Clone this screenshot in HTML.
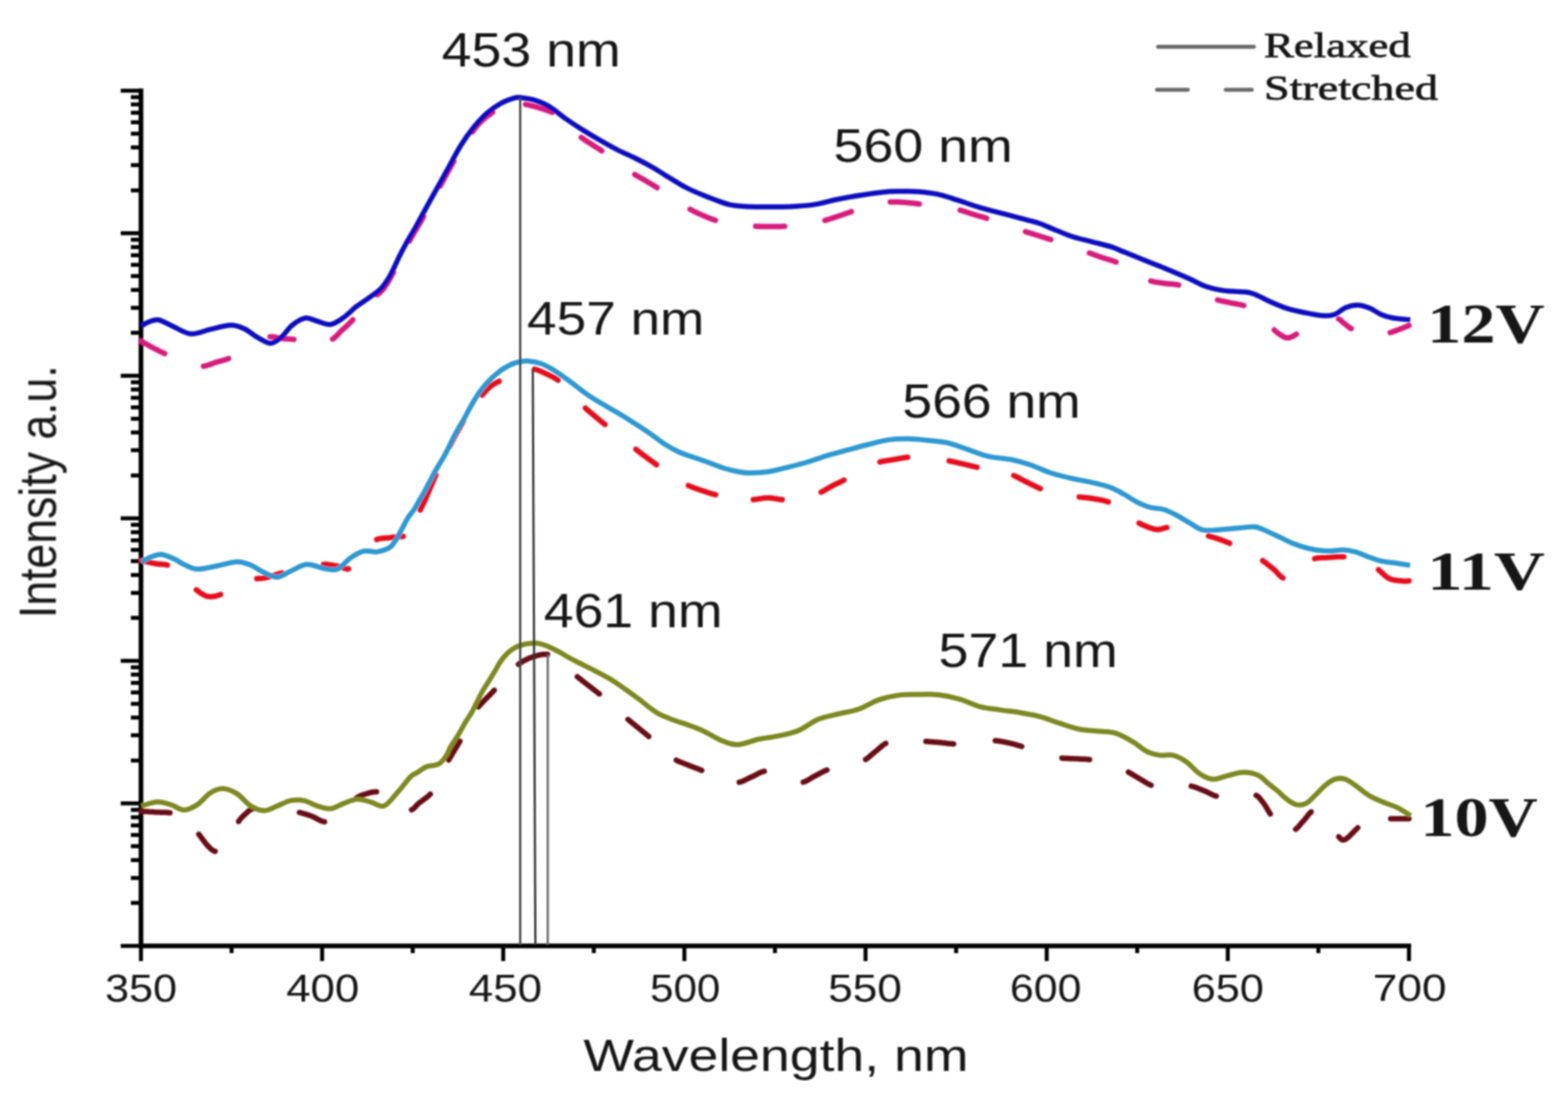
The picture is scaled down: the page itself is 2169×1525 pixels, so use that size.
<!DOCTYPE html>
<html><head><meta charset="utf-8"><style>
html,body{margin:0;padding:0;background:#fff;}
svg{display:block;}
.wrap{width:2169px;height:1525px;}
</style></head><body><div class="wrap">
<svg width="2169" height="1525" viewBox="0 0 2169 1525">
<defs><filter id="soft" x="0" y="0" width="2169" height="1525" filterUnits="userSpaceOnUse"><feGaussianBlur stdDeviation="1.0"/></filter></defs>
<rect width="2169" height="1525" fill="#fff"/>
<g filter="url(#soft)">
<path d="M167,125.5 H195 M181,263.4 H195 M181,228.6 H195 M181,204 H195 M181,184.9 H195 M181,169.3 H195 M181,156.1 H195 M181,144.6 H195 M181,134.5 H195 M167,322.8 H195 M181,460.6 H195 M181,425.9 H195 M181,401.2 H195 M181,382.1 H195 M181,366.5 H195 M181,353.3 H195 M181,341.9 H195 M181,331.8 H195 M167,520 H195 M181,657.9 H195 M181,623.1 H195 M181,598.5 H195 M181,579.4 H195 M181,563.8 H195 M181,550.6 H195 M181,539.1 H195 M181,529 H195 M167,717.2 H195 M181,855.1 H195 M181,820.4 H195 M181,795.7 H195 M181,776.6 H195 M181,761 H195 M181,747.8 H195 M181,736.4 H195 M181,726.3 H195 M167,914.5 H195 M181,1052.4 H195 M181,1017.6 H195 M181,993 H195 M181,973.9 H195 M181,958.3 H195 M181,945.1 H195 M181,933.6 H195 M181,923.5 H195 M167,1111.8 H195 M181,1249.6 H195 M181,1214.9 H195 M181,1190.2 H195 M181,1171.1 H195 M181,1155.5 H195 M181,1142.3 H195 M181,1130.9 H195 M181,1120.8 H195 M167,1309 H195 M195,1309 V1330 M320.3,1309 V1319 M445.6,1309 V1330 M570.9,1309 V1319 M696.1,1309 V1330 M821.4,1309 V1319 M946.7,1309 V1330 M1072,1309 V1319 M1197.3,1309 V1330 M1322.6,1309 V1319 M1447.9,1309 V1330 M1573.1,1309 V1319 M1698.4,1309 V1330 M1823.7,1309 V1319 M1949,1309 V1330 " stroke="#000" stroke-width="5.5" fill="none"/>
<path d="M195,122.5 V1312 M192,1309 H1952" stroke="#000" stroke-width="6.5" fill="none"/>
<path d="M195,472 195.4,472.2 195.8,472.5 196.3,472.7 196.8,473 197.4,473.4 198,473.7 198.7,474.1 199.3,474.5 200.1,474.9 200.8,475.3 201.6,475.7 202.3,476.2 203.1,476.6 203.9,477.1 204.8,477.5 205.6,478 206.4,478.5 207.2,478.9 208.1,479.4 208.9,479.8 209.7,480.3 210.5,480.7 211.2,481.1 212,481.5 212.7,481.9 213.5,482.3 214.2,482.6 214.9,483 215.7,483.4 216.4,483.7 217.1,484.1 217.9,484.5 218.6,484.8 219.3,485.2 220.1,485.6 220.8,485.9 221.6,486.3 222.4,486.7 223.1,487 223.9,487.4 224.7,487.8 225.5,488.2 226.3,488.6 227.1,489 227.9,489.3M281.5,506.7 282.2,506.6 283.2,506.5 284.1,506.3 285,506.1 285.9,505.8 286.8,505.6 287.7,505.3 288.6,505 289.5,504.7 290.4,504.4 291.3,504.1 292.2,503.7 293.1,503.4 294,503.1 294.8,502.8 295.7,502.4 296.6,502.1 297.4,501.8 298.3,501.5 299.2,501.3 300,501 300.8,500.8 301.6,500.5 302.4,500.3 303.2,500.1 304,499.9 304.8,499.7 305.5,499.5 306.3,499.3 307,499.1 307.7,498.9 308.5,498.7 309.2,498.5 310,498.3 310.7,498.1 311.5,497.8 312.2,497.6 313,497.3 313.8,497.1 314.6,496.8 315.5,496.5 316.2,496.2M373.6,466.1 374.3,466.1 375.1,466 376,466 376.8,466.1 377.6,466.1 378.4,466.2 379.2,466.3 380,466.5 380.7,466.6 381.5,466.8 382.3,467 383,467.1 383.8,467.3 384.5,467.5 385.3,467.7 386.1,467.9 386.8,468 387.6,468.2 388.4,468.3 389.2,468.4 390,468.5 390.8,468.6 391.6,468.6 392.4,468.7 393.2,468.8 394,468.8 394.8,468.9 395.6,468.9 396.3,469 397.1,469 397.9,469.1 398.7,469.1 399.5,469.2 400.3,469.2 401.1,469.3 401.9,469.3 402.7,469.4 403.5,469.5 404.3,469.5 405.2,469.6 406,469.7 406.5,469.7M460.1,469.1 460.4,468.9 461.1,468.5 461.7,468 462.4,467.6 463,467.1 463.6,466.6 464.2,466 464.7,465.5 465.3,464.9 465.8,464.4 466.4,463.8 466.9,463.2 467.5,462.6 468,462.1 468.6,461.5 469.1,460.9 469.7,460.3 470.2,459.7 470.8,459.1 471.4,458.6 472,458 472.6,457.4 473.2,456.9 473.8,456.3 474.5,455.8 475.1,455.2 475.7,454.7 476.3,454.1 476.9,453.5 477.6,453 478.2,452.4 478.8,451.8 479.4,451.2 480,450.6 480.7,450 481.3,449.4 481.9,448.8 482.5,448.2 483.2,447.6 483.8,446.9 484.4,446.3 485.1,445.6 485.7,445 486.4,444.3 487,443.6 487.7,442.9 488,442.5M521.7,407.9 521.7,407.9 522.2,407.5 522.7,407.2 523.2,406.8 523.7,406.4 524.2,406 524.7,405.6 525.2,405.2 525.6,404.8 526.1,404.4 526.6,403.9 527,403.5 527.4,403 527.9,402.6 528.3,402.1 528.7,401.7 529.1,401.2 529.5,400.7 529.9,400.3 530.3,399.8 530.6,399.3 531,398.8 531.4,398.3 531.8,397.8 532.1,397.3 532.5,396.8 532.8,396.3 533.2,395.8 533.5,395.3 533.9,394.7 534.2,394.2 534.6,393.7 534.9,393.1 535.3,392.6 535.6,392 536,391.5 536.4,390.9 536.7,390.4 537.1,389.8 537.4,389.2 537.8,388.6 538.1,387.9 538.5,387.3 538.9,386.7 539.2,386 539.6,385.4 539.9,384.8 540.2,384.1 540.6,383.5 540.9,382.8 541.3,382.2 541.6,381.6 541.9,381 542.2,380.4 542.5,379.8 542.9,379.2 543.2,378.6 543.4,378.1 543.7,377.5 544,377 544.2,376.6M566.3,333.5 566.4,333.3 566.7,332.8 567,332.3 567.3,331.7 567.6,331.2 567.9,330.7 568.2,330.2 568.5,329.7 568.8,329.1 569.1,328.6 569.4,328.1 569.7,327.5 570,327 570.3,326.5 570.6,325.9 571,325.4 571.3,324.8 571.6,324.3 571.9,323.7 572.3,323.2 572.6,322.6 572.9,322 573.3,321.5 573.6,320.9 573.9,320.3 574.3,319.8 574.6,319.2 575,318.6 575.3,318.1 575.6,317.5 576,316.9 576.3,316.4 576.7,315.8 577,315.2 577.3,314.6 577.7,314.1 578,313.5 578.3,312.9 578.6,312.4 578.9,311.9 579.2,311.4 579.5,310.9 579.8,310.5 580,310 580.3,309.6 580.6,309.1 580.8,308.7 581.1,308.2 581.4,307.7 581.7,307.2 582,306.7 582.3,306.2 582.6,305.6 582.9,305 583.3,304.3 583.7,303.7 584.1,302.9 584.5,302.2 585,301.3 585.5,300.4 585.8,299.8M609,257.3 609.2,256.9 610,255.5 610.7,254.1 611.4,252.7 612.2,251.4 612.9,250 613.7,248.6 614.4,247.2 615.2,245.9 615.9,244.5 616.7,243.1 617.4,241.8 618.2,240.4 618.9,239 619.7,237.6 620.5,236.2 621.2,234.9 622,233.5 622.8,232.1 623.6,230.7 624.3,229.3 625.1,227.9 625.9,226.5 626.7,225 627.5,223.6 627.8,223.1M653.6,182.2 654.1,181.5 654.8,180.6 655.5,179.7 656.1,178.9 656.8,178.1 657.4,177.3 658,176.5 658.6,175.8 659.2,175 659.8,174.3 660.3,173.7 660.9,173 661.4,172.4 662,171.8 662.5,171.2 663,170.7 663.6,170.1 664.1,169.6 664.6,169.1 665.1,168.6 665.5,168.2 666,167.7 666.5,167.3 666.9,166.8 667.4,166.4 667.8,166 668.3,165.6 668.7,165.2 669.2,164.8 669.6,164.4 670,164 670.4,163.6 670.8,163.3 671.1,163 671.5,162.7 671.8,162.4 672.1,162.1 672.4,161.9 672.7,161.7 673,161.4 673.3,161.2 673.5,161 673.8,160.8 674.1,160.6 674.4,160.5 674.7,160.3 675,160.1 675.3,159.8 675.6,159.6 675.9,159.4 676.3,159.2 676.7,158.9 677.1,158.6 677.5,158.3 678,158 678.5,157.7 679,157.3 679.5,156.9 680.1,156.5 680.7,156.1 681.3,155.7 681.6,155.4M727,144.5 727.2,144.5 728,144.7 728.9,144.9 729.7,145 730.6,145.2 731.5,145.4 732.4,145.6 733.3,145.8 734.1,146 735.1,146.3 736,146.5 736.9,146.7 737.8,146.9 738.7,147.2 739.6,147.4 740.5,147.7 741.4,147.9 742.3,148.2 743.2,148.5 744.1,148.7 745,149 745.9,149.3 746.8,149.5 747.7,149.8 748.6,150.1 749.5,150.4 750.4,150.6 751.4,150.9 752.3,151.2 753.2,151.5 754.1,151.8 755,152.1 756,152.4 756.9,152.8 757.8,153.1 758.7,153.4 759.6,153.8 760.5,154.1 761.4,154.5 762.3,154.9 763.2,155.3 763.9,155.6M804,190.1 804.4,190.4 805.1,190.9 805.8,191.4 806.5,191.9 807.1,192.4 807.8,192.9 808.5,193.3 809.2,193.8 809.8,194.2 810.5,194.7 811.2,195.1 811.9,195.6 812.5,196 813.2,196.4 813.9,196.8 814.6,197.3 815.3,197.7 815.9,198.1 816.6,198.6 817.3,199 818,199.5 818.7,200 819.4,200.4 820.1,200.8 820.7,201.3 821.4,201.7 822.1,202.1 822.8,202.6 823.5,203 824.2,203.4 824.8,203.8 825.5,204.3 826.2,204.7 826.9,205.1 827.6,205.5 828.3,206 829,206.4 829.7,206.9 830.4,207.4 831.2,207.8 831.9,208.3 832.4,208.7M878,241.5 878.5,241.8 879.2,242.2 880,242.7 880.7,243.1 881.4,243.5 882.2,243.9 882.9,244.3 883.6,244.7 884.3,245.1 885,245.5 885.8,245.9 886.5,246.3 887.2,246.7 887.9,247.1 888.6,247.5 889.3,247.9 890.1,248.3 890.8,248.7 891.5,249.1 892.3,249.6 893,250 893.7,250.4 894.5,250.9 895.2,251.3 896,251.8 896.7,252.2 897.5,252.7 898.2,253.1 899,253.6 899.7,254 900.5,254.5 901.3,255 902,255.4 902.8,255.9 903.5,256.4 904.3,256.8 905.1,257.3 905.8,257.8 906.6,258.3 907.4,258.8 908.2,259.3 908.9,259.8M954.5,289.6 955.2,290 956.1,290.4 956.9,290.9 957.7,291.3 958.6,291.7 959.4,292.1 960.2,292.6 961.1,293 961.9,293.4 962.7,293.8 963.6,294.2 964.4,294.6 965.3,295 966.1,295.4 966.9,295.8 967.8,296.1 968.6,296.5 969.5,296.9 970.3,297.3 971.2,297.6 972,298 972.8,298.4 973.7,298.7 974.5,299.1 975.3,299.4 976.2,299.8 977,300.1 977.8,300.5 978.7,300.8 979.5,301.1 980.3,301.5 981.1,301.8 982,302.1 982.8,302.5 983.7,302.8 984.5,303.1 985.4,303.4 986.2,303.7 987.1,304 988,304.3 988.8,304.6 989.6,304.8M1045.3,313.1 1046.2,313.2 1047.2,313.2 1048.1,313.3 1049.1,313.3 1050,313.3 1051,313.3 1051.9,313.4 1052.8,313.4 1053.8,313.4 1054.7,313.4 1055.6,313.4 1056.6,313.5 1057.5,313.5 1058.4,313.5 1059.3,313.5 1060.3,313.5 1061.2,313.5 1062.1,313.5 1063.1,313.5 1064,313.5 1065,313.5 1066,313.5 1066.9,313.5 1067.9,313.5 1068.8,313.5 1069.8,313.5 1070.8,313.5 1071.7,313.5 1072.7,313.5 1073.7,313.5 1074.6,313.5 1075.6,313.5 1076.6,313.5 1077.6,313.5 1078.5,313.4 1079.5,313.4 1080.5,313.4 1081.5,313.4 1082.4,313.3 1083.4,313.3 1084.4,313.2 1085.4,313.2M1141.1,305 1142,304.7 1143,304.5 1143.9,304.2 1144.8,303.9 1145.8,303.7 1146.7,303.4 1147.6,303.1 1148.5,302.8 1149.4,302.5 1150.3,302.2 1151.2,301.9 1152.1,301.6 1152.9,301.4 1153.8,301.1 1154.7,300.8 1155.6,300.5 1156.5,300.2 1157.4,299.9 1158.2,299.6 1159.1,299.3 1160,299 1160.9,298.7 1161.7,298.4 1162.6,298.1 1163.5,297.8 1164.3,297.5 1165.2,297.2 1166,297 1166.9,296.7 1167.7,296.4 1168.5,296.1 1169.4,295.8 1170.2,295.5 1171,295.2 1171.9,294.9 1172.7,294.6 1173.6,294.3 1174.4,294 1175.3,293.7 1176.1,293.4 1177,293.1 1177.7,292.8M1231.5,279.6 1232.2,279.6 1233.1,279.5 1234,279.5 1234.9,279.5 1235.8,279.5 1236.6,279.4 1237.5,279.4 1238.4,279.5 1239.2,279.5 1240.1,279.5 1241,279.5 1241.8,279.6 1242.7,279.6 1243.6,279.6 1244.5,279.7 1245.4,279.7 1246.3,279.8 1247.2,279.8 1248.1,279.9 1249,279.9 1250,280 1251,280.1 1251.9,280.1 1252.9,280.2 1253.9,280.3 1254.9,280.4 1255.9,280.5 1256.9,280.6 1257.9,280.7 1259,280.8 1260,280.9 1261,281 1262.1,281.1 1263.1,281.2 1264.1,281.3 1265.2,281.5 1266.2,281.6 1267.3,281.7 1268.3,281.8 1269.4,282 1270.4,282.1 1271.5,282.2 1271.6,282.2M1328.2,290.8 1329,291 1329.9,291.3 1330.8,291.5 1331.6,291.8 1332.5,292.1 1333.4,292.3 1334.2,292.6 1335,292.9 1335.9,293.2 1336.7,293.4 1337.5,293.7 1338.4,294 1339.2,294.3 1340,294.6 1340.9,294.8 1341.7,295.1 1342.5,295.4 1343.4,295.7 1344.3,296 1345.1,296.2 1346,296.5 1346.9,296.8 1347.8,297 1348.7,297.3 1349.5,297.6 1350.4,297.8 1351.3,298.1 1352.2,298.3 1353.1,298.6 1354,298.9 1354.9,299.1 1355.8,299.4 1356.7,299.6 1357.6,299.9 1358.5,300.2 1359.4,300.4 1360.3,300.7 1361.2,301 1362.1,301.3 1363.1,301.5 1364,301.8 1364.8,302.1M1418.5,320.5 1419.3,320.8 1420.2,321.1 1421.1,321.4 1421.9,321.6 1422.8,321.9 1423.6,322.2 1424.5,322.4 1425.3,322.7 1426.1,322.9 1426.9,323.2 1427.8,323.4 1428.6,323.7 1429.4,323.9 1430.2,324.2 1431,324.4 1431.8,324.7 1432.7,325 1433.5,325.2 1434.3,325.5 1435.2,325.7 1436,326 1436.8,326.3 1437.7,326.5 1438.5,326.8 1439.3,327.1 1440.2,327.3 1441,327.6 1441.8,327.8 1442.6,328.1 1443.5,328.3 1444.3,328.6 1445.1,328.9 1445.9,329.1 1446.8,329.4 1447.6,329.6 1448.4,329.9 1449.3,330.2 1450.1,330.5 1451,330.7 1451.8,331 1452.7,331.3 1453.5,331.5M1507,350.1 1507.9,350.4 1508.7,350.7 1509.6,351 1510.5,351.3 1511.4,351.6 1512.2,351.9 1513.1,352.2 1513.9,352.5 1514.8,352.9 1515.6,353.2 1516.4,353.5 1517.3,353.8 1518.1,354.1 1519,354.4 1519.8,354.7 1520.7,355 1521.5,355.3 1522.4,355.6 1523.2,355.9 1524.1,356.2 1525,356.5 1525.9,356.8 1526.8,357.1 1527.7,357.4 1528.6,357.7 1529.5,357.9 1530.3,358.2 1531.2,358.5 1532.1,358.8 1533.1,359 1534,359.3 1534.9,359.6 1535.8,359.9 1536.7,360.1 1537.6,360.4 1538.5,360.7 1539.4,361 1540.3,361.3 1541.2,361.6 1542.1,362 1543,362.3 1543.8,362.6M1591.8,388.8 1592.5,389 1593.3,389.2 1594.2,389.4 1595.1,389.6 1595.9,389.8 1596.8,390 1597.6,390.1 1598.5,390.3 1599.4,390.5 1600.2,390.6 1601.1,390.7 1602,390.8 1602.9,391 1603.7,391.1 1604.6,391.2 1605.5,391.3 1606.4,391.5 1607.3,391.6 1608.2,391.7 1609.1,391.9 1610,392 1610.9,392.1 1611.8,392.3 1612.8,392.4 1613.7,392.5 1614.6,392.6 1615.6,392.7 1616.5,392.8 1617.5,392.8 1618.4,392.9 1619.4,393 1620.4,393.1 1621.3,393.1 1622.3,393.2 1623.2,393.3 1624.2,393.4 1625.2,393.5 1626.2,393.6 1627.1,393.8 1628.1,393.9 1629.1,394.1 1630.1,394.3 1630.4,394.4M1684.2,415 1685,415.3 1685.8,415.5 1686.7,415.7 1687.6,415.9 1688.4,416.1 1689.3,416.3 1690.1,416.5 1691,416.7 1691.8,416.9 1692.7,417 1693.5,417.2 1694.4,417.4 1695.2,417.6 1696,417.7 1696.9,417.9 1697.7,418.1 1698.6,418.2 1699.4,418.4 1700.3,418.6 1701.1,418.8 1702,419 1702.9,419.2 1703.8,419.4 1704.7,419.6 1705.5,419.7 1706.4,419.9 1707.3,420 1708.2,420.2 1709.2,420.3 1710.1,420.5 1711,420.6 1711.9,420.8 1712.8,420.9 1713.7,421.1 1714.6,421.3 1715.5,421.5 1716.4,421.7 1717.3,421.9 1718.1,422.1 1719,422.3 1719.9,422.6 1720.5,422.8M1762.6,456.6 1762.9,456.9 1763.4,457.3 1763.8,457.7 1764.2,458.1 1764.6,458.4 1764.9,458.7 1765.3,459 1765.6,459.3 1766,459.6 1766.3,459.9 1766.7,460.2 1767,460.4 1767.3,460.7 1767.7,461 1768,461.2 1768.4,461.5 1768.8,461.7 1769.2,462 1769.6,462.2 1770,462.5 1770.4,462.8 1770.9,463.1 1771.3,463.3 1771.8,463.6 1772.2,463.9 1772.7,464.2 1773.1,464.5 1773.6,464.8 1774,465.1 1774.5,465.4 1774.9,465.6 1775.4,465.9 1775.9,466.1 1776.3,466.4 1776.8,466.6 1777.3,466.8 1777.8,467 1778.3,467.1 1778.8,467.3 1779.3,467.4 1779.8,467.4 1780.3,467.5 1780.9,467.5 1781.4,467.5 1781.9,467.5 1782.5,467.4 1783,467.3 1783.6,467.2 1784.1,467 1784.7,466.8 1785.3,466.6 1785.8,466.4 1786.4,466.2 1787,465.9 1787.6,465.7 1788.2,465.4 1788.8,465.1 1789.4,464.8 1790,464.4 1790.6,464.1 1791.2,463.7 1791.9,463.4 1792.5,463 1793.2,462.6 1793.3,462.5M1851.8,441.3 1852.2,441.5 1852.6,441.8 1853.1,442.1 1853.5,442.5 1854,442.8 1854.4,443.2 1854.8,443.6 1855.2,443.9 1855.7,444.3 1856.1,444.7 1856.5,445.1 1856.9,445.4 1857.3,445.8 1857.8,446.2 1858.2,446.6 1858.6,446.9 1859.1,447.3 1859.5,447.7 1860,448 1860.5,448.3 1860.9,448.7 1861.3,449 1861.8,449.3 1862.2,449.7 1862.6,450 1863,450.3 1863.4,450.7 1863.8,451 1864.2,451.3 1864.6,451.7 1865.1,452 1865.5,452.3 1866,452.7 1866.4,453 1866.9,453.3 1867.4,453.7 1867.9,454 1868.5,454.4 1869.1,454.7 1869.1,454.7M1923,460.2 1923.2,460.2 1923.9,460 1924.5,459.8 1925.2,459.6 1925.8,459.4 1926.4,459.2 1927,459 1927.6,458.8 1928.1,458.6 1928.7,458.4 1929.2,458.2 1929.8,458 1930.3,457.8 1930.9,457.6 1931.5,457.3 1932,457.1 1932.6,456.9 1933.2,456.7 1933.8,456.5 1934.4,456.2 1935,456 1935.7,455.8 1936.3,455.5 1937,455.2 1937.8,455 1938.5,454.7 1939.3,454.4 1940,454.1 1940.8,453.8 1941.6,453.5 1942.3,453.1 1943.1,452.8 1943.8,452.5 1944.6,452.2 1945.3,451.9 1946,451.7 1946.7,451.4 1947.3,451.1 1947.9,450.9 1948.5,450.6 1949.1,450.4 1949.1,450.4" stroke="#d81c7c" stroke-width="7.5" fill="none" stroke-linecap="round" stroke-linejoin="round"/>
<path d="M195.5,775.6 195.9,775.7 196.4,775.8 197,775.9 197.6,776.1 198.3,776.3 199,776.4 199.8,776.6 200.6,776.8 201.4,777 202.3,777.2 203.1,777.4 204,777.6 205,777.8 205.9,778 206.8,778.3 207.8,778.5 208.7,778.7 209.7,778.9 210.6,779.1 211.5,779.3 212.4,779.5 213.3,779.7 214.2,779.8 215,780 215.8,780.1 216.6,780.3 217.4,780.4 218.2,780.5 219.1,780.5 219.9,780.6 220.7,780.6 221.5,780.7 222.3,780.7 223.1,780.8 224,780.8 224.8,780.9 225.6,781 226.4,781 227.2,781.1 228,781.2 228.8,781.4 229.6,781.5 230.4,781.7 231.2,781.9 231.5,782M271.6,816.2 272.3,816.7 273,817.3 273.8,817.9 274.5,818.4 275.3,819 276,819.6 276.8,820.1 277.6,820.6 278.3,821.2 279.1,821.7 279.8,822.1 280.6,822.6 281.4,823 282.2,823.4 282.9,823.8 283.7,824.2 284.5,824.5 285.3,824.8 286.1,825 286.9,825.2 287.7,825.4 288.5,825.5 289.3,825.6 290.1,825.7 291,825.7 291.8,825.7 292.6,825.7 293.4,825.6 294.3,825.6 295.1,825.4 295.9,825.3 296.8,825.2 297.6,825 298.5,824.8 299.3,824.6 300.2,824.3 301,824.1 301.9,823.8 302.8,823.5 303.6,823.2 304.5,823 305.2,822.7M355.2,800.7 355.7,800.7 356.2,800.6 356.8,800.5 357.3,800.5 357.9,800.5 358.4,800.5 358.9,800.4 359.4,800.4 359.9,800.4 360.5,800.4 361,800.4 361.6,800.4 362.1,800.3 362.7,800.3 363.3,800.2 364,800.1 364.7,800 365.4,799.9 366.2,799.8 367,799.6 367.9,799.4 368.8,799.2 369.7,798.9 370.7,798.7 371.6,798.4 372.7,798.1 373.7,797.8 374.8,797.4 375.8,797.1 376.9,796.8 378,796.4 379.2,796.1 380.3,795.7 381.5,795.3 382.6,795 383.8,794.6 384.9,794.3 386.1,794 387.2,793.6 388.4,793.3 389.5,793 390,792.9M447.5,780.9 448.2,780.9 449,780.9 449.9,780.9 450.8,781 451.6,781 452.5,781.1 453.3,781.2 454.2,781.3 455,781.4 455.9,781.5 456.7,781.6 457.5,781.8 458.3,781.9 459.2,782 460,782.2 460.8,782.3 461.7,782.5 462.5,782.6 463.3,782.8 464.2,782.9 465,783 465.8,783.1 466.7,783.3 467.6,783.5 468.4,783.8 469.3,784 470.2,784.3 471,784.6 471.9,784.9 472.8,785.2 473.7,785.5 474.5,785.8 475.4,786.1 476.3,786.4 477.1,786.7 478,786.9 478.8,787.1 479.6,787.2 480.4,787.3 481.3,787.4 482.1,787.4 482.2,787.3M521,746.7 521.7,746.4 522.6,746.1 523.5,745.8 524.4,745.6 525.3,745.4 526.2,745.3 527.2,745.1 528.1,745 529,744.9 529.9,744.8 530.9,744.8 531.8,744.7 532.7,744.6 533.6,744.6 534.6,744.5 535.5,744.5 536.4,744.4 537.3,744.3 538.2,744.2 539.1,744.1 540,744 540.9,743.9 541.8,743.8 542.7,743.6 543.7,743.5 544.6,743.4 545.6,743.4 546.5,743.3 547.5,743.2 548.4,743.1 549.4,743.1 550.3,743 551.3,742.9 552.2,742.8 553.1,742.7 554,742.7 554.8,742.6 555.7,742.5 556.5,742.4 557.3,742.3 557.8,742.2M581.3,705.8 581.3,705.7 581.6,705.1 581.9,704.5 582.2,703.9 582.5,703.3 582.8,702.7 583.1,702.1 583.4,701.5 583.7,700.9 584,700.3 584.3,699.7 584.6,699.1 584.9,698.4 585.2,697.8 585.5,697.2 585.8,696.5 586.1,695.9 586.4,695.3 586.7,694.6 587,694 587.3,693.4 587.6,692.7 587.9,692.1 588.2,691.4 588.5,690.8 588.8,690.1 589,689.5 589.3,688.8 589.6,688.1 589.9,687.5 590.2,686.8 590.5,686.1 590.8,685.5 591.1,684.8 591.4,684.1 591.7,683.4 592,682.7 592.2,682.1 592.5,681.4 592.8,680.7 593.1,680 593.4,679.4 593.7,678.7 594,678 594.3,677.3 594.6,676.6 594.9,676 595.2,675.3 595.5,674.6 595.8,673.9 596,673.2 596.3,672.5 596.6,671.8 596.9,671.1 597.2,670.4 597.5,669.8 597.8,669.1 598.1,668.4 598.4,667.7 598.7,667 599,666.3 599.2,665.6 599.5,664.9 599.8,664.2 600.1,663.5 600.4,662.9 600.7,662.2 601,661.5 601.3,660.8 601.6,660.1 601.9,659.5 602.2,658.8 602.5,658.1 602.8,657.4 602.8,657.3M622.4,617.2 622.6,616.9 622.8,616.3 623.1,615.8 623.4,615.2 623.6,614.7 623.9,614.1 624.2,613.6 624.5,613 624.7,612.5 625,612 625.3,611.4 625.5,610.9 625.8,610.3 626.1,609.8 626.3,609.2 626.6,608.7 626.9,608.1 627.2,607.6 627.4,607.1 627.7,606.5 628,606 628.3,605.5 628.6,604.9 628.9,604.4 629.1,603.9 629.4,603.3 629.7,602.8 630,602.3 630.3,601.8 630.6,601.2 630.9,600.7 631.2,600.2 631.5,599.7 631.8,599.1 632.1,598.6 632.4,598.1 632.7,597.6 633,597.1 633.3,596.5 633.6,596 633.9,595.5 634.1,595 634.4,594.5 634.7,594 635,593.5 635.3,593 635.6,592.5 635.8,592 636.1,591.5 636.4,591 636.7,590.5 636.9,590 637.2,589.5 637.5,589 637.7,588.6 638,588.1 638.3,587.6 638.5,587.1 638.8,586.6 639.1,586.2 639.4,585.7 639.6,585.2 639.9,584.7 640.2,584.3 640.4,583.8 640.7,583.4 640.9,582.9M666.8,546.7 667.1,546.3 667.5,545.9 667.8,545.5 668.2,545.1 668.5,544.6 668.9,544.2 669.3,543.8 669.6,543.4 670,543 670.4,542.6 670.8,542.2 671.1,541.8 671.5,541.4 671.9,541 672.3,540.5 672.7,540.1 673.1,539.7 673.5,539.3 673.9,538.9 674.3,538.5 674.7,538.1 675.1,537.7 675.5,537.3 675.9,536.9 676.4,536.5 676.8,536.1 677.2,535.7 677.7,535.3 678.1,535 678.6,534.6 679.1,534.2 679.5,533.9 680,533.5 680.5,533.2 681,532.8 681.4,532.5 681.9,532.2 682.4,531.9 682.9,531.6 683.3,531.4 683.8,531.1 684.3,530.8 684.8,530.6 685.3,530.3 685.8,530 686.3,529.8 686.9,529.5 687.4,529.2 688,528.9 688.5,528.6 689.1,528.3 689.7,528 690.4,527.7 690.5,527.6M739.3,510.9 739.6,511 740.4,511.1 741.1,511.3 741.9,511.5 742.7,511.8 743.5,512 744.2,512.3 745,512.6 745.8,512.9 746.5,513.2 747.3,513.5 748.1,513.8 748.8,514.1 749.6,514.5 750.3,514.8 751.1,515.2 751.9,515.5 752.6,515.9 753.4,516.3 754.2,516.6 755,517 755.8,517.4 756.6,517.7 757.4,518.1 758.2,518.5 759.1,518.9 759.9,519.3 760.7,519.7 761.6,520.1 762.4,520.5 763.2,520.9 764.1,521.3 764.9,521.8 765.7,522.2 766.6,522.7 767.4,523.2 768.2,523.6 769,524.1 769.8,524.6 770.6,525.1 771.4,525.7 772,526.1M809.8,564.7 810.3,565.2 810.9,565.8 811.6,566.3 812.2,566.9 812.9,567.5 813.5,568 814.1,568.6 814.8,569.1 815.4,569.6 816,570.2 816.6,570.7 817.3,571.2 817.9,571.7 818.5,572.3 819.1,572.8 819.8,573.3 820.4,573.8 821.1,574.4 821.7,574.9 822.3,575.4 823,576 823.7,576.6 824.3,577.1 825,577.7 825.6,578.2 826.3,578.7 826.9,579.3 827.6,579.8 828.2,580.4 828.9,580.9 829.6,581.5 830.2,582 830.9,582.6 831.6,583.1 832.2,583.7 832.9,584.2 833.6,584.8 834.3,585.3 834.9,585.9 835.6,586.4 836.3,587 836.9,587.4M879.6,621.7 880.1,622 880.8,622.6 881.4,623.1 882.1,623.6 882.7,624.1 883.4,624.6 884,625.1 884.6,625.6 885.3,626.1 885.9,626.6 886.5,627.1 887.1,627.5 887.8,628 888.4,628.5 889,629 889.7,629.5 890.3,630 891,630.5 891.6,631 892.3,631.5 893,632 893.7,632.5 894.4,633 895.1,633.6 895.8,634.1 896.5,634.6 897.2,635.1 897.9,635.6 898.6,636.2 899.3,636.7 900.1,637.2 900.8,637.8 901.5,638.3 902.2,638.8 903,639.3 903.7,639.9 904.5,640.4 905.2,640.9 905.9,641.5 906.7,642 907.4,642.5 908,643M952.2,671.8 952.8,672.1 953.7,672.5 954.5,672.8 955.3,673.2 956.2,673.5 957,673.9 957.9,674.2 958.7,674.5 959.5,674.9 960.4,675.2 961.3,675.5 962.1,675.8 963,676.1 963.8,676.4 964.7,676.7 965.6,677 966.4,677.3 967.3,677.6 968.2,677.9 969.1,678.2 970,678.5 970.9,678.8 971.8,679.1 972.7,679.4 973.7,679.7 974.6,680 975.5,680.4 976.5,680.7 977.4,681 978.4,681.3 979.3,681.6 980.3,681.9 981.2,682.2 982.2,682.5 983.2,682.7 984.1,683 985.1,683.3 986,683.6 987,683.9 988,684.1 988.9,684.4 989.8,684.6M1042,691.4 1042.9,691.3 1043.9,691.2 1044.8,691.1 1045.8,691 1046.7,690.9 1047.7,690.7 1048.6,690.6 1049.6,690.4 1050.6,690.2 1051.5,690.1 1052.5,689.9 1053.4,689.8 1054.4,689.6 1055.3,689.5 1056.3,689.4 1057.2,689.3 1058.2,689.2 1059.1,689.1 1060.1,689 1061,689 1062,689 1063,689 1063.9,689 1064.9,689.1 1065.8,689.2 1066.8,689.3 1067.7,689.4 1068.7,689.5 1069.6,689.6 1070.6,689.8 1071.5,689.9 1072.5,690.1 1073.4,690.2 1074.4,690.4 1075.3,690.6 1076.3,690.7 1077.3,690.9 1078.2,691 1079.2,691.1 1080.2,691.2 1081.1,691.3 1082.1,691.4M1135.7,681.1 1136.4,680.8 1137.2,680.4 1138.1,680 1138.9,679.5 1139.7,679.1 1140.5,678.6 1141.3,678.2 1142,677.7 1142.8,677.3 1143.6,676.8 1144.4,676.4 1145.1,675.9 1145.9,675.5 1146.7,675 1147.4,674.6 1148.2,674.1 1148.9,673.7 1149.7,673.3 1150.5,672.8 1151.2,672.4 1152,672 1152.8,671.6 1153.5,671.2 1154.3,670.8 1155,670.5 1155.7,670.1 1156.5,669.8 1157.2,669.5 1157.9,669.1 1158.6,668.8 1159.4,668.5 1160.1,668.1 1160.8,667.8 1161.5,667.4 1162.3,667.1 1163,666.8 1163.7,666.4 1164.5,666 1165.2,665.6 1166,665.2 1166.8,664.8 1167.4,664.5M1217.1,639.3 1217.8,639.1 1218.8,638.9 1219.7,638.7 1220.6,638.5 1221.5,638.3 1222.4,638.2 1223.3,638 1224.2,637.9 1225.1,637.7 1226,637.6 1226.9,637.4 1227.8,637.3 1228.7,637.1 1229.6,637 1230.5,636.9 1231.4,636.7 1232.3,636.6 1233.2,636.4 1234.2,636.3 1235.1,636.2 1236,636 1236.9,635.8 1237.8,635.7 1238.8,635.5 1239.7,635.4 1240.6,635.2 1241.5,635 1242.4,634.8 1243.3,634.7 1244.2,634.5 1245.1,634.3 1246,634.2 1247,634 1247.9,633.9 1248.8,633.7 1249.7,633.6 1250.7,633.4 1251.6,633.3 1252.6,633.2 1253.5,633 1254.5,632.9 1255.5,632.8 1255.5,632.8M1313,637.8 1313.9,638 1314.9,638.2 1315.8,638.3 1316.7,638.5 1317.6,638.7 1318.5,638.9 1319.4,639.1 1320.3,639.3 1321.2,639.5 1322.1,639.7 1323,639.9 1323.9,640.1 1324.8,640.3 1325.7,640.5 1326.6,640.8 1327.5,641 1328.4,641.2 1329.3,641.4 1330.2,641.6 1331.1,641.8 1332,642 1332.9,642.2 1333.8,642.4 1334.8,642.6 1335.7,642.9 1336.6,643.1 1337.6,643.3 1338.5,643.5 1339.4,643.8 1340.4,644 1341.3,644.2 1342.2,644.4 1343.2,644.7 1344.1,644.9 1345,645.1 1346,645.3 1346.9,645.6 1347.8,645.8 1348.8,646 1349.7,646.2 1350.6,646.4 1351.5,646.6M1402.3,658.1 1403,658.4 1403.9,658.8 1404.7,659.1 1405.6,659.5 1406.4,660 1407.3,660.4 1408.1,660.8 1409,661.2 1409.8,661.7 1410.6,662.1 1411.5,662.6 1412.3,663 1413.1,663.5 1414,663.9 1414.8,664.4 1415.7,664.8 1416.5,665.3 1417.4,665.7 1418.2,666.1 1419.1,666.6 1420,667 1420.9,667.4 1421.8,667.9 1422.7,668.3 1423.5,668.7 1424.4,669.2 1425.3,669.6 1426.2,670.1 1427.1,670.5 1428,671 1428.9,671.4 1429.8,671.8 1430.7,672.3 1431.6,672.7 1432.5,673.2 1433.5,673.6 1434.4,674 1435.3,674.5 1436.2,674.9 1437.2,675.3 1438.1,675.7 1439,676.1 1439.1,676.2M1492.9,687.8 1493.7,687.9 1494.6,688 1495.5,688 1496.4,688.1 1497.3,688.2 1498.2,688.3 1499.1,688.4 1500,688.5 1500.9,688.5 1501.8,688.6 1502.7,688.7 1503.7,688.8 1504.6,688.9 1505.5,689 1506.4,689.1 1507.3,689.3 1508.2,689.4 1509.2,689.5 1510.1,689.7 1511,689.8 1512,690 1513,690.2 1513.9,690.3 1514.9,690.5 1515.9,690.7 1517,690.8 1518,691 1519,691.2 1520,691.4 1521.1,691.6 1522.1,691.8 1523.2,692 1524.2,692.2 1525.2,692.4 1526.3,692.6 1527.3,692.9 1528.3,693.1 1529.3,693.4 1530.3,693.7 1531.3,694 1532.3,694.3 1533.2,694.7 1533.2,694.7M1575.6,723.9 1575.8,724 1576.8,724.5 1577.9,725 1579,725.5 1580.1,726 1581.2,726.5 1582.3,727 1583.5,727.5 1584.6,728 1585.8,728.5 1586.9,729 1588.1,729.4 1589.2,729.9 1590.4,730.3 1591.5,730.7 1592.6,731 1593.7,731.4 1594.7,731.7 1595.8,732 1596.8,732.2 1597.8,732.4 1598.7,732.6 1599.6,732.7 1600.5,732.8 1601.3,732.8 1602.1,732.8 1602.9,732.8 1603.6,732.7 1604.4,732.5 1605.1,732.4 1605.8,732.2 1606.5,732 1607.2,731.8 1607.9,731.6 1608.6,731.4 1609.3,731.2 1610,731 1610.7,730.8 1611.4,730.6 1612.1,730.4 1612.9,730.2 1613.7,730.1 1614.1,730M1671.7,741.7 1672.2,741.8 1672.9,742 1673.7,742.3 1674.4,742.5 1675.1,742.7 1675.9,742.9 1676.5,743.1 1677.2,743.3 1677.9,743.5 1678.6,743.6 1679.2,743.8 1679.9,744 1680.5,744.2 1681.2,744.4 1681.9,744.6 1682.5,744.9 1683.2,745.1 1683.9,745.3 1684.6,745.5 1685.3,745.8 1686,746 1686.7,746.3 1687.5,746.5 1688.2,746.8 1688.9,747 1689.6,747.3 1690.3,747.5 1691,747.8 1691.8,748.1 1692.5,748.4 1693.2,748.6 1693.9,748.9 1694.6,749.2 1695.4,749.5 1696.1,749.8 1696.8,750.1 1697.6,750.4 1698.3,750.7 1699.1,751 1699.9,751.3 1700.6,751.6 1701,751.8M1746.6,775.8 1747.1,776.2 1747.9,776.7 1748.6,777.3 1749.3,777.8 1750,778.3 1750.7,778.8 1751.4,779.4 1752.1,779.9 1752.8,780.5 1753.4,781 1754.1,781.5 1754.8,782.1 1755.5,782.6 1756.2,783.2 1756.9,783.7 1757.6,784.3 1758.2,784.8 1758.9,785.3 1759.6,785.9 1760.3,786.4 1761,787 1761.7,787.6 1762.4,788.2 1763.1,788.8 1763.7,789.5 1764.4,790.2 1765.1,790.9 1765.8,791.6 1766.4,792.4 1767.1,793.1 1767.8,793.8 1768.5,794.6 1769.1,795.3 1769.8,796 1770.5,796.6 1771.2,797.2 1771.9,797.8 1772.6,798.4 1773.3,798.9 1774,799.3 1774.7,799.7 1774.7,799.8M1818.5,773.1 1819.2,772.9 1820.1,772.7 1821,772.5 1821.9,772.3 1822.8,772.2 1823.7,772.1 1824.7,772 1825.6,771.9 1826.5,771.9 1827.5,771.8 1828.4,771.8 1829.4,771.8 1830.3,771.7 1831.3,771.7 1832.2,771.7 1833.2,771.7 1834.2,771.7 1835.1,771.6 1836.1,771.6 1837,771.6 1838,771.5 1839,771.4 1839.9,771.3 1840.9,771.3 1841.9,771.2 1842.9,771.1 1843.9,771 1844.9,770.9 1845.9,770.8 1846.9,770.8 1847.9,770.7 1848.9,770.6 1849.9,770.5 1850.9,770.5 1851.9,770.4 1852.9,770.4 1853.9,770.4 1854.9,770.4 1855.9,770.4 1856.9,770.4 1857.9,770.4 1858.8,770.4M1906.9,788.5 1907.4,789 1908.2,789.6 1908.9,790.2 1909.6,790.8 1910.3,791.5 1911,792.1 1911.7,792.8 1912.4,793.4 1913.1,794.1 1913.8,794.7 1914.5,795.4 1915.2,796 1915.9,796.6 1916.6,797.2 1917.3,797.8 1918,798.3 1918.7,798.8 1919.4,799.3 1920.2,799.8 1920.9,800.2 1921.7,800.6 1922.5,800.9 1923.3,801.3 1924.1,801.6 1924.9,801.8 1925.8,802.1 1926.7,802.3 1927.5,802.5 1928.4,802.7 1929.3,802.8 1930.2,803 1931.1,803.1 1932,803.2 1932.9,803.4 1933.7,803.5 1934.6,803.5 1935.4,803.6 1936.2,803.7 1937,803.8 1937.8,803.8 1938.6,803.9 1939.3,803.9 1940,804 1940.7,804 1941.3,804.1 1941.9,804.2 1942.5,804.2 1943.1,804.2 1943.6,804.2 1944.1,804.2 1944.6,804.2 1945.1,804.2 1945.6,804.2 1946.1,804.1 1946.5,804.1 1947,804.1 1947.4,804 1947.8,804 1948.1,803.9 1948.5,803.9 1948.9,803.8 1949,803.8" stroke="#e60c1e" stroke-width="7.5" fill="none" stroke-linecap="round" stroke-linejoin="round"/>
<path d="M195.5,1122.7 196,1122.7 196.5,1122.8 197.2,1122.8 197.8,1122.8 198.6,1122.9 199.4,1122.9 200.2,1123 201.1,1123 202,1123.1 203,1123.1 203.9,1123.2 204.9,1123.3 206,1123.3 207,1123.4 208,1123.4 209.1,1123.5 210.1,1123.6 211.2,1123.6 212.2,1123.7 213.2,1123.8 214.2,1123.8 215.2,1123.9 216.1,1123.9 217,1124 217.9,1124.1 218.8,1124.1 219.7,1124.1 220.6,1124.1 221.5,1124.2 222.4,1124.2 223.3,1124.2 224.2,1124.2 225.1,1124.2 226,1124.2 226.9,1124.2 227.8,1124.2 228.7,1124.3 229.6,1124.3 230.4,1124.3 231.3,1124.4 232.2,1124.5 233,1124.6 233.9,1124.7 234.7,1124.8 235.1,1124.8M275,1154.5 275.6,1155.2 276.2,1156 276.9,1156.8 277.5,1157.6 278.1,1158.5 278.7,1159.3 279.3,1160.1 279.9,1160.9 280.4,1161.7 281,1162.5 281.6,1163.2 282.1,1164 282.7,1164.8 283.3,1165.5 283.8,1166.2 284.3,1166.9 284.9,1167.6 285.4,1168.2 286,1168.9 286.5,1169.4 287,1170 287.5,1170.5 288,1171.1 288.5,1171.6 289,1172.1 289.5,1172.5 289.9,1173 290.4,1173.5 290.9,1173.9 291.3,1174.3 291.7,1174.7 292.2,1175.1 292.6,1175.5 293.1,1175.8 293.5,1176.2 293.9,1176.5 294.4,1176.7 294.8,1177 295.2,1177.2 295.7,1177.4 296.1,1177.6 296.6,1177.7 297.1,1177.9 297.5,1177.9 297.6,1178M330,1136.8 330.1,1136.7 330.6,1135.9 331.2,1135.2 331.7,1134.5 332.2,1133.8 332.7,1133.2 333.2,1132.6 333.7,1132.1 334.2,1131.5 334.6,1131 335.1,1130.6 335.6,1130.1 336,1129.7 336.4,1129.2 336.9,1128.8 337.3,1128.4 337.8,1128 338.2,1127.6 338.6,1127.2 339.1,1126.8 339.5,1126.4 340,1126 340.5,1125.6 340.9,1125.2 341.3,1124.8 341.7,1124.4 342.1,1124 342.5,1123.7 342.9,1123.3 343.2,1123 343.6,1122.6 344,1122.3 344.3,1122 344.7,1121.7 345.1,1121.4 345.5,1121.2 345.9,1120.9 346.3,1120.7 346.7,1120.4 347.2,1120.2 347.7,1120 348.1,1119.7 348.7,1119.5 349.2,1119.4 349.8,1119.2 350.4,1119 351,1118.8 351.7,1118.7 352,1118.6M414.2,1124.3 414.5,1124.4 415.3,1124.6 416.1,1124.8 416.8,1125 417.6,1125.2 418.4,1125.4 419.1,1125.6 419.9,1125.8 420.6,1126 421.4,1126.2 422.1,1126.5 422.9,1126.7 423.6,1126.9 424.4,1127.2 425.2,1127.4 425.9,1127.7 426.7,1127.9 427.5,1128.2 428.3,1128.4 429.2,1128.7 430,1129 430.9,1129.3 431.7,1129.7 432.6,1130.1 433.5,1130.5 434.4,1130.9 435.3,1131.4 436.3,1131.9 437.2,1132.4 438.1,1132.9 439.1,1133.4 440,1133.9 441,1134.4 441.9,1134.8 442.9,1135.3 443.8,1135.7 444.8,1136.1 445.7,1136.5 446.6,1136.8 447.5,1137 448.4,1137.3 448.9,1137.3M493,1104.4 493.3,1104.2 493.9,1103.8 494.5,1103.4 495.1,1103 495.7,1102.7 496.3,1102.4 496.8,1102.1 497.4,1101.8 497.9,1101.6 498.5,1101.3 499,1101.1 499.6,1100.8 500.1,1100.6 500.7,1100.4 501.2,1100.2 501.8,1100 502.4,1099.8 503,1099.6 503.7,1099.4 504.3,1099.2 505,1099 505.7,1098.8 506.4,1098.6 507.1,1098.3 507.9,1098.1 508.6,1097.9 509.3,1097.7 510.1,1097.5 510.9,1097.3 511.6,1097 512.4,1096.9 513.2,1096.7 514,1096.5 514.8,1096.3 515.6,1096.2 516.4,1096.1 517.2,1096 518,1095.9 518.8,1095.8 519.7,1095.8 520.5,1095.8 520.8,1095.8M569.2,1120.6 569.5,1120.5 570.1,1120.3 570.7,1119.9 571.2,1119.6 571.8,1119.2 572.3,1118.8 572.8,1118.3 573.4,1117.8 573.9,1117.2 574.4,1116.7 574.9,1116.1 575.4,1115.5 575.9,1115 576.5,1114.4 577,1113.8 577.6,1113.2 578.2,1112.6 578.8,1112.1 579.4,1111.5 580,1111 580.7,1110.5 581.3,1110 582,1109.5 582.7,1109 583.4,1108.5 584.2,1107.9 584.9,1107.4 585.6,1106.9 586.4,1106.3 587.1,1105.8 587.9,1105.2 588.7,1104.6 589.4,1104.1 590.2,1103.5 590.9,1102.9 591.7,1102.3 592.4,1101.6 593.1,1101 593.8,1100.3 594.5,1099.7 595.2,1099M620.7,1051.8 621.2,1050.9 621.9,1049.7 622.6,1048.4 623.4,1047.1 624.2,1045.8 625,1044.5 625.8,1043.1 626.6,1041.7 627.5,1040.3 628.3,1038.9 629.2,1037.5 630,1036.1 630.8,1034.7 631.7,1033.3 632.5,1032 633.3,1030.6 634.1,1029.3 634.9,1028 635.6,1026.7 636.2,1025.7M661.8,978.3 662.4,977.5 663.4,976.4 664.4,975.2 665.5,974.1 666.6,972.9 667.7,971.7 668.9,970.4 670.1,969.2 671.3,968 672.5,966.7 673.7,965.5 675,964.2 676.2,963 677.4,961.8 678.5,960.6 679.7,959.4 680.8,958.3 681.9,957.1 682.9,956 683.7,955.2M717.1,919.3 717.2,919.2 718.1,918.6 718.9,918 719.7,917.4 720.6,916.9 721.4,916.4 722.3,915.8 723.2,915.3 724.1,914.8 724.9,914.3 725.8,913.9 726.7,913.4 727.6,912.9 728.5,912.5 729.4,912.1 730.3,911.6 731.2,911.2 732.1,910.9 733,910.5 733.9,910.1 734.8,909.8 735.7,909.4 736.6,909.1 737.4,908.8 738.3,908.5 739.1,908.3 740,908 740.8,907.8 741.7,907.5 742.5,907.3 743.4,907.1 744.2,906.8 745,906.6 745.8,906.4 746.7,906.3 747.5,906.1 748.3,905.9 749.1,905.8 749.9,905.7 750.7,905.6 751.5,905.5 752.3,905.4 753.1,905.4 753.9,905.4 754.7,905.4 755.5,905.4 756.3,905.5 757.1,905.6 757.4,905.6M798.6,936.4 798.7,936.5 800,937.6 801.4,938.7 802.8,939.8 804.3,941 805.8,942.2 807.4,943.4 809,944.7 810.6,945.9 812.2,947.2 813.8,948.5 815.5,949.7 817.1,951 818.7,952.2 820.3,953.5 821.9,954.7 823.4,955.9 824.9,957 826.3,958.2 827.7,959.2 829,960.3 829.1,960.3M868.7,995.6 869.9,996.5 871.2,997.6 872.5,998.8 873.9,999.9 875.4,1001.1 876.9,1002.3 878.4,1003.5 879.9,1004.8 881.5,1006.1 883.1,1007.3 884.6,1008.6 886.2,1009.9 887.7,1011.1 889.2,1012.4 890.7,1013.6 892.2,1014.8 893.6,1015.9 894.9,1017.1 896.2,1018.2 897.4,1019.2M935.5,1052 935.7,1052.1 936.4,1052.5 937.1,1052.8 937.8,1053.1 938.4,1053.4 939.1,1053.7 939.8,1054 940.4,1054.2 941.1,1054.5 941.8,1054.8 942.5,1055.1 943.2,1055.3 943.9,1055.6 944.6,1055.9 945.3,1056.1 946,1056.4 946.8,1056.7 947.6,1057 948.4,1057.3 949.2,1057.7 950,1058 950.9,1058.3 951.7,1058.7 952.6,1059.1 953.6,1059.4 954.5,1059.8 955.5,1060.2 956.4,1060.5 957.4,1060.9 958.4,1061.3 959.4,1061.7 960.5,1062.1 961.5,1062.5 962.5,1062.8 963.5,1063.2 964.6,1063.6 965.6,1064 966.6,1064.4 967.6,1064.8 968.6,1065.2 969.6,1065.6 970.6,1066 970.7,1066.1M1022.6,1082.5 1023.2,1082.4 1024.1,1082.2 1025,1081.9 1025.9,1081.6 1026.7,1081.3 1027.6,1080.9 1028.4,1080.6 1029.2,1080.2 1030.1,1079.8 1030.9,1079.4 1031.7,1079 1032.5,1078.6 1033.4,1078.1 1034.2,1077.7 1035,1077.3 1035.8,1076.9 1036.7,1076.5 1037.5,1076.1 1038.3,1075.7 1039.2,1075.3 1040,1075 1040.8,1074.7 1041.7,1074.3 1042.5,1073.9 1043.3,1073.5 1044.1,1073.1 1045,1072.6 1045.8,1072.2 1046.6,1071.7 1047.4,1071.3 1048.2,1070.9 1049,1070.4 1049.8,1070 1050.6,1069.6 1051.5,1069.2 1052.3,1068.8 1053.1,1068.5 1054,1068.2 1054.8,1067.9 1055.7,1067.7 1056.6,1067.5 1057.2,1067.4M1111.1,1082.4 1111.5,1082.3 1112.3,1082 1113.1,1081.7 1113.9,1081.4 1114.7,1081.1 1115.5,1080.7 1116.2,1080.3 1117,1079.9 1117.8,1079.4 1118.5,1079 1119.3,1078.5 1120,1078 1120.8,1077.6 1121.5,1077.1 1122.3,1076.6 1123.1,1076.1 1123.8,1075.7 1124.6,1075.2 1125.4,1074.8 1126.2,1074.4 1127,1074 1127.8,1073.6 1128.6,1073.2 1129.4,1072.8 1130.2,1072.4 1131,1072 1131.8,1071.5 1132.5,1071.1 1133.3,1070.7 1134.1,1070.3 1134.9,1069.8 1135.7,1069.4 1136.5,1069 1137.3,1068.6 1138.1,1068.1 1138.9,1067.7 1139.8,1067.3 1140.6,1066.9 1141.4,1066.5 1142.3,1066.2 1143.2,1065.8 1144,1065.5M1197.4,1051 1197.9,1050.7 1198.6,1050.2 1199.3,1049.7 1200,1049.2 1200.7,1048.7 1201.3,1048.2 1202,1047.6 1202.6,1047.1 1203.3,1046.6 1203.9,1046 1204.5,1045.5 1205.2,1044.9 1205.8,1044.3 1206.4,1043.8 1207,1043.2 1207.7,1042.7 1208.3,1042.1 1209,1041.6 1209.6,1041.1 1210.3,1040.5 1211,1040 1211.7,1039.5 1212.4,1038.9 1213,1038.4 1213.7,1037.8 1214.4,1037.2 1215,1036.7 1215.7,1036.1 1216.3,1035.5 1217,1034.9 1217.7,1034.3 1218.3,1033.8 1219,1033.2 1219.7,1032.6 1220.4,1032.1 1221.1,1031.5 1221.8,1031 1222.5,1030.5 1223.2,1030 1224,1029.5 1224.8,1029.1 1225.3,1028.8M1280.8,1026 1281.7,1026 1282.7,1026.1 1283.6,1026.2 1284.5,1026.2 1285.5,1026.3 1286.4,1026.4 1287.3,1026.4 1288.2,1026.5 1289.1,1026.6 1290,1026.7 1290.9,1026.7 1291.8,1026.8 1292.7,1026.9 1293.6,1027 1294.5,1027 1295.4,1027.1 1296.3,1027.2 1297.3,1027.3 1298.2,1027.3 1299.1,1027.4 1300,1027.5 1300.9,1027.6 1301.8,1027.7 1302.7,1027.8 1303.6,1027.9 1304.5,1028 1305.4,1028.1 1306.3,1028.2 1307.2,1028.3 1308.1,1028.4 1309,1028.5 1309.9,1028.7 1310.8,1028.8 1311.7,1028.9 1312.6,1029 1313.5,1029.1 1314.5,1029.2 1315.4,1029.2 1316.3,1029.3 1317.2,1029.3 1318.2,1029.4 1319.1,1029.4M1376.8,1025 1377.6,1025 1378.5,1025.1 1379.4,1025.2 1380.3,1025.3 1381.2,1025.4 1382.1,1025.6 1383,1025.7 1383.8,1025.8 1384.7,1026 1385.5,1026.1 1386.4,1026.2 1387.3,1026.4 1388.1,1026.6 1389,1026.7 1389.8,1026.9 1390.7,1027.1 1391.5,1027.3 1392.4,1027.4 1393.2,1027.6 1394.1,1027.8 1395,1028 1395.9,1028.2 1396.8,1028.4 1397.6,1028.6 1398.5,1028.8 1399.4,1029 1400.2,1029.2 1401.1,1029.4 1401.9,1029.6 1402.8,1029.9 1403.7,1030.1 1404.5,1030.3 1405.4,1030.6 1406.2,1030.8 1407.1,1031.1 1408,1031.3 1408.9,1031.6 1409.8,1031.9 1410.6,1032.2 1411.5,1032.4 1412.5,1032.7 1413.4,1033M1469,1049.1 1469.8,1049.2 1470.8,1049.3 1471.7,1049.3 1472.6,1049.4 1473.5,1049.5 1474.5,1049.5 1475.4,1049.5 1476.3,1049.6 1477.2,1049.6 1478.1,1049.6 1479,1049.7 1479.9,1049.7 1480.8,1049.7 1481.7,1049.7 1482.6,1049.8 1483.5,1049.8 1484.4,1049.8 1485.3,1049.9 1486.2,1049.9 1487.1,1049.9 1488,1050 1488.9,1050.1 1489.8,1050.1 1490.7,1050.1 1491.7,1050.2 1492.6,1050.2 1493.5,1050.3 1494.4,1050.3 1495.3,1050.3 1496.2,1050.4 1497.1,1050.4 1498,1050.4 1498.9,1050.5 1499.8,1050.5 1500.8,1050.6 1501.7,1050.6 1502.6,1050.7 1503.5,1050.8 1504.5,1050.9 1505.4,1050.9 1506.3,1051.1 1507.2,1051.2M1560.9,1068.5 1561.6,1068.9 1562.4,1069.4 1563.2,1069.8 1564,1070.3 1564.8,1070.7 1565.6,1071.2 1566.4,1071.7 1567.2,1072.1 1567.9,1072.6 1568.7,1073 1569.4,1073.5 1570.2,1074 1570.9,1074.4 1571.7,1074.9 1572.5,1075.4 1573.2,1075.8 1574,1076.3 1574.7,1076.7 1575.5,1077.1 1576.2,1077.6 1577,1078 1577.8,1078.4 1578.5,1078.9 1579.2,1079.3 1580,1079.7 1580.7,1080.2 1581.4,1080.6 1582.1,1081.1 1582.8,1081.5 1583.5,1082 1584.2,1082.4 1585,1082.8 1585.7,1083.3 1586.4,1083.7 1587.1,1084.1 1587.8,1084.5 1588.6,1084.9 1589.3,1085.3 1590.1,1085.6 1590.9,1086 1591.7,1086.3 1592.3,1086.6M1647.9,1087.9 1648.5,1088 1649.4,1088.2 1650.3,1088.5 1651.1,1088.7 1651.9,1088.9 1652.8,1089.2 1653.6,1089.5 1654.4,1089.8 1655.2,1090.1 1656,1090.4 1656.8,1090.7 1657.7,1091 1658.5,1091.4 1659.3,1091.7 1660.1,1092 1660.9,1092.4 1661.7,1092.7 1662.5,1093 1663.3,1093.4 1664.2,1093.7 1665,1094 1665.8,1094.3 1666.7,1094.7 1667.5,1095 1668.3,1095.4 1669.2,1095.8 1670,1096.2 1670.8,1096.6 1671.6,1097 1672.4,1097.4 1673.3,1097.9 1674.1,1098.3 1674.9,1098.7 1675.8,1099.1 1676.6,1099.5 1677.4,1099.9 1678.3,1100.3 1679.1,1100.6 1680,1100.9 1680.9,1101.2 1681.8,1101.5 1682.5,1101.7M1737.6,1100.6 1738.2,1100.9 1738.7,1101.2 1739.3,1101.6 1739.8,1101.9 1740.3,1102.3 1740.7,1102.8 1741.2,1103.2 1741.7,1103.7 1742.1,1104.1 1742.5,1104.6 1742.9,1105.1 1743.3,1105.6 1743.8,1106.2 1744.2,1106.7 1744.6,1107.3 1745,1107.8 1745.5,1108.4 1745.9,1109 1746.4,1109.6 1746.9,1110.2 1747.4,1110.8 1747.9,1111.5 1748.4,1112.2 1748.9,1112.9 1749.4,1113.6 1749.9,1114.3 1750.4,1115.1 1750.9,1115.9 1751.4,1116.7 1751.9,1117.5 1752.3,1118.3 1752.8,1119.2 1753.3,1120 1753.8,1120.8 1754.3,1121.7 1754.8,1122.5 1755.3,1123.3 1755.8,1124.2 1756.3,1125 1756.8,1125.8 1757.2,1126.4M1792.3,1147.6 1792.7,1147.3 1793.2,1146.9 1793.8,1146.4 1794.4,1145.9 1794.9,1145.3 1795.5,1144.8 1796,1144.2 1796.6,1143.5 1797.1,1142.9 1797.6,1142.3 1798.2,1141.6 1798.7,1141 1799.2,1140.3 1799.7,1139.7 1800.3,1139 1800.8,1138.4 1801.4,1137.8 1801.9,1137.2 1802.4,1136.6 1803,1136 1803.6,1135.4 1804.1,1134.8 1804.7,1134.2 1805.2,1133.5 1805.8,1132.8 1806.3,1132.1 1806.9,1131.4 1807.5,1130.6 1808,1129.9 1808.6,1129.2 1809.1,1128.4 1809.7,1127.7 1810.2,1127 1810.8,1126.4 1811.4,1125.8 1811.9,1125.2 1812.5,1124.6 1813,1124.1 1813.6,1123.6 1813.7,1123.6M1851.9,1157.9 1852,1158 1852.5,1158.5 1852.9,1159 1853.3,1159.5 1853.7,1159.9 1854.1,1160.3 1854.4,1160.7 1854.8,1161 1855.1,1161.3 1855.5,1161.6 1855.8,1161.8 1856.2,1162 1856.6,1162.1 1857,1162.2 1857.4,1162.3 1857.8,1162.3 1858.3,1162.3 1858.8,1162.2 1859.3,1162.1 1859.9,1161.9 1860.5,1161.7 1861.2,1161.4 1861.8,1161 1862.6,1160.5 1863.3,1160 1864.1,1159.4 1864.9,1158.7 1865.7,1158 1866.5,1157.2 1867.4,1156.3 1868.2,1155.5 1869.1,1154.6 1870,1153.7 1870.9,1152.8 1871.8,1151.8 1872.7,1150.9 1873.6,1150 1874.5,1149.1 1875.4,1148.2 1876.3,1147.3 1877.2,1146.5 1878.1,1145.7 1878.2,1145.6M1923.7,1133 1924.3,1133 1925.6,1132.9 1927,1132.9 1928.4,1132.9 1929.8,1132.9 1931.3,1132.9 1932.8,1132.9 1934.3,1132.9 1935.8,1132.9 1937.3,1132.9 1938.8,1132.9 1940.3,1132.9 1941.7,1133 1943.1,1133 1944.4,1133 1945.6,1133 1946.8,1133 1947.9,1133 1949,1133 1949,1133" stroke="#680c16" stroke-width="7.5" fill="none" stroke-linecap="round" stroke-linejoin="round"/>
<path d="M195.5,451C197.4,450 203,446.4 207,445C211,443.6 214.3,441.7 219.5,442.7C224.7,443.7 230.6,447.8 238,451C245.4,454.2 254.9,461.2 263.8,462C272.7,462.8 282.2,457.6 291.4,455.6C300.6,453.6 311.3,450.1 319,450C326.7,449.9 331.3,451.9 337.5,454.7C343.7,457.5 349.9,463.3 356,466.7C362.1,470.1 368.9,475 374.4,475C379.9,475 384.6,470.5 389.2,466.7C393.8,462.9 398,455.8 402,452C406,448.2 409.3,446 413,444C416.7,442 419.9,439.9 424.2,440C428.5,440.1 433.5,443 439,444.5C444.5,446 451.3,449.9 457.4,449C463.5,448.1 470.1,443 475.8,439C481.5,435 487.2,428.8 491.8,425.1C496.4,421.4 499.7,419.6 503.6,416.9C507.5,414.1 511.5,411.6 515.4,408.6C519.3,405.7 523.7,402.9 527.2,399.2C530.8,395.5 533.8,390.9 536.7,386.2C539.7,381.5 542.1,376.3 544.9,370.8C547.6,365.3 550.2,359 553.2,353.1C556.2,347.2 559.1,341.7 562.6,335.4C566.1,329.1 571,321.2 574.4,315.3C577.8,309.4 578.3,308 582.7,300C587.1,292 594.5,278.4 600.6,267.5C606.7,256.6 613,245.4 619.1,234.3C625.2,223.2 631.4,210.9 637.5,201.1C643.6,191.3 649.9,182.8 656,175.3C662.1,167.8 668.2,161.4 674.4,156C680.5,150.6 686.8,146.4 692.9,143C699,139.6 706.7,137 711.3,135.7C715.9,134.4 715.9,134.6 720.5,135.1C725.1,135.6 732.4,136.3 739,138.4C745.6,140.5 752.6,143.1 760,147.5C767.4,151.9 775.7,159.5 783.6,165C791.5,170.5 799.3,175.6 807.2,180.5C815.1,185.4 822.9,190 830.8,194.5C838.7,199 846.5,203.5 854.4,207.5C862.3,211.5 870.1,214.6 878,218.5C885.9,222.4 893.8,226.5 901.7,231C909.6,235.5 917.4,240.8 925.3,245.5C933.2,250.2 941,255.4 948.9,259.5C956.8,263.6 965.5,267.1 972.5,270C979.5,272.9 984.5,274.8 990.6,277C996.7,279.2 1002.9,281.8 1009,283.2C1015.1,284.6 1018.3,284.9 1027.5,285.4C1036.7,285.9 1052.1,286.3 1064.4,286.3C1076.7,286.3 1090.5,286 1101.3,285.4C1112.1,284.8 1119.8,284.1 1129,282.6C1138.2,281.1 1145.8,278.4 1156.6,276.2C1167.3,274 1181.2,271.5 1193.5,269.7C1205.8,267.9 1221,265.9 1230.4,265.1C1239.8,264.3 1243.4,264.8 1250,264.8C1256.6,264.8 1262,264.5 1270,265.2C1278,265.9 1288.5,266.9 1297.7,268.9C1306.9,270.9 1316.1,274.3 1325.3,277.2C1334.5,280.1 1343.8,283.6 1353,286.4C1362.2,289.2 1371.4,291.4 1380.6,293.8C1389.8,296.2 1399.1,298.7 1408.3,301.1C1417.5,303.6 1428.3,306 1436,308.5C1443.7,311 1446.7,312.8 1454.4,315.9C1462.1,319 1472.9,323.9 1482.1,327C1491.3,330.1 1500.5,331.9 1509.7,334.3C1518.9,336.8 1529.7,339.2 1537.4,341.7C1545.1,344.2 1548.1,346 1555.8,349.1C1563.5,352.2 1574.3,356.5 1583.5,360.2C1592.7,363.9 1601.1,367 1611.2,371.2C1621.3,375.4 1634.7,381 1644.2,385.2C1653.7,389.4 1660.3,393.7 1668.4,396.5C1676.5,399.3 1684.5,400.9 1692.6,402.1C1700.7,403.3 1710.1,403 1716.8,403.7C1723.5,404.4 1726.3,403.9 1733,406.2C1739.7,408.5 1749.1,414 1757.2,417.5C1765.3,421 1773.3,424.6 1781.4,427.1C1789.5,429.7 1797.5,431.2 1805.6,432.8C1813.7,434.4 1823.1,436.4 1829.8,436.8C1836.5,437.2 1840.5,437.1 1845.9,435.2C1851.3,433.3 1856.6,427.6 1862,425.5C1867.4,423.4 1872.8,422.2 1878.2,422.3C1883.6,422.4 1888.9,424.2 1894.3,426.3C1899.7,428.4 1905.1,432.9 1910.5,435.2C1915.9,437.5 1919.9,438.8 1926.6,440C1933.3,441.2 1946.8,442.1 1950.8,442.5" stroke="#0a10c0" stroke-width="7" fill="none" stroke-linejoin="round"/>
<path d="M195.5,777.5C197.7,776.4 203.8,772.7 208.4,771C213,769.3 217.7,766.8 223.2,767.3C228.7,767.8 236.4,771.5 241.6,773.8C246.8,776.1 249.3,778.8 254.5,781.1C259.7,783.4 265.3,787.3 273,787.6C280.7,787.9 291.4,784.7 300.6,783C309.8,781.3 320.6,777.6 328.3,777.5C336,777.4 340.7,779.6 346.8,782.1C352.9,784.6 359.1,789.4 365.2,792.2C371.3,795 377.5,799 383.6,798.7C389.8,798.4 395.3,793.3 402.1,790.4C408.9,787.5 416.5,781.7 424.2,781.1C431.9,780.5 441.1,785.6 448.2,786.7C455.3,787.8 460.5,790.1 466.6,787.6C472.8,785.1 479,776 485.1,771.9C491.2,767.8 497.4,764.1 503.5,762.7C509.6,761.3 516.2,764.4 522,763.6C527.8,762.8 534.4,760.3 538.4,758.1C542.4,755.9 543.4,753.3 545.7,750.2C548,747.1 549.9,743.3 552,739.5C554.1,735.7 556.2,731.4 558.3,727.5C560.4,723.6 562.2,719.8 564.6,716C567,712.2 570.4,708.8 572.9,705C575.4,701.2 577.5,696.8 579.7,693C581.9,689.2 584.1,685.8 586,682.4C587.9,679 589.5,675.8 591.2,672.5C593,669.2 594.8,665.8 596.5,662.5C598.2,659.2 599.8,655.9 601.7,652.5C603.6,649.1 605.8,645.7 608,642C610.2,638.3 612.6,634.6 614.9,630.5C617.1,626.4 619.3,621.9 621.5,617.5C623.7,613.1 625.8,608.2 628,604C630.2,599.8 632.4,595.8 634.6,592C636.8,588.2 639.1,584.8 641.1,581.3C643.1,577.8 644.4,574.9 646.6,570.8C648.8,566.7 651.9,561 654.5,556.6C657.1,552.2 659.8,547.9 662.4,544.1C665,540.3 667.7,536.9 670.3,533.8C672.9,530.6 675.5,527.8 678.1,525.2C680.7,522.6 683.4,520.3 686,518.1C688.6,515.9 691.3,513.6 693.9,511.8C696.5,510 699,508.6 701.7,507.1C704.4,505.7 707,504.2 710,503.1C713,502 716.5,501.1 720,500.5C723.5,499.9 726.6,499.3 731.3,499.7C735.9,500.1 742.4,501.1 747.9,503C753.4,504.9 757.9,507.3 764.5,511.3C771.1,515.3 779.1,521.1 787.5,527.2C795.9,533.3 805.9,541.6 815.1,547.8C824.3,554 833.4,558.9 842.6,564.4C851.8,569.9 861,575.2 870.2,580.9C879.4,586.6 889.7,593.3 897.7,598.8C905.7,604.3 911.4,609.4 918.3,613.9C925.2,618.4 932,622.3 939,625.5C946,628.7 953.2,630.6 960,633C966.8,635.4 973.3,637.6 980,640C986.7,642.4 993.3,645.4 1000,647.5C1006.7,649.6 1013.8,651.3 1020,652.5C1026.2,653.7 1029.8,654.5 1037,654.5C1044.2,654.5 1054.1,654.1 1063,652.8C1071.9,651.4 1081.4,648.7 1090.6,646.4C1099.8,644.1 1109.1,641.8 1118.3,639C1127.5,636.2 1136.8,632.6 1146,629.8C1155.2,627 1164.4,624.9 1173.6,622.4C1182.8,619.9 1192.1,617.3 1201.3,615C1210.5,612.7 1219.8,609.9 1229,608.6C1238.2,607.3 1247.4,607.1 1256.6,607.3C1265.8,607.4 1275.1,608.5 1284.3,609.5C1293.5,610.5 1302.7,611.1 1311.9,613.2C1321.1,615.4 1330.4,619.3 1339.6,622.4C1348.8,625.5 1357.6,629.4 1367.3,631.6C1377,633.8 1388,633.9 1397.7,635.8C1407.4,637.7 1416.1,640.1 1425.3,643.2C1434.5,646.3 1443.8,651.2 1453,654.3C1462.2,657.4 1471.4,659.5 1480.6,661.6C1489.8,663.8 1499.1,665.1 1508.3,667.2C1517.5,669.4 1528.3,671.7 1536,674.5C1543.7,677.3 1548.2,680.4 1554.4,683.8C1560.6,687.2 1566.8,691.7 1572.9,694.8C1579.1,697.9 1585.2,700.5 1591.3,702.2C1597.4,703.9 1603.5,703.1 1609.7,705C1615.9,706.9 1622.1,710.1 1628.2,713.3C1634.3,716.5 1640.4,720.9 1646.6,724.3C1652.8,727.7 1657.4,732.2 1665.1,733.6C1672.8,735 1683.5,733.2 1692.7,732.6C1701.9,732 1712.6,730.6 1720,730C1727.4,729.4 1731.5,728.2 1737.3,729.2C1743.1,730.2 1748.8,733.6 1754.6,736.1C1760.4,738.6 1766.1,741.5 1771.9,744.2C1777.7,746.9 1783.5,749.9 1789.2,752.2C1795,754.5 1800.7,756.5 1806.4,758C1812.2,759.5 1817.9,760.7 1823.7,761.5C1829.5,762.3 1835.2,762.7 1841,762.6C1846.8,762.5 1852.5,760.7 1858.3,760.9C1864.1,761.1 1869.8,762.2 1875.6,763.8C1881.4,765.4 1887.1,768.6 1892.9,770.7C1898.7,772.8 1904.4,775 1910.2,776.4C1916,777.8 1920.8,777.8 1927.5,778.8C1934.2,779.8 1946.7,781.6 1950.5,782.2" stroke="#2e98d2" stroke-width="7" fill="none" stroke-linejoin="round"/>
<path d="M195.5,1115.3C199.2,1114.4 210.9,1110.1 217.7,1109.8C224.5,1109.5 230,1111.7 236.1,1113.5C242.2,1115.3 248.3,1120.9 254.5,1120.9C260.6,1120.9 266.9,1117.5 273,1113.5C279.1,1109.5 285.2,1100.6 291.4,1096.9C297.5,1093.2 303.8,1091.1 309.9,1091.4C316,1091.7 322.1,1094.7 328.3,1098.7C334.5,1102.7 340.7,1111.5 346.8,1115.3C352.9,1119.1 359.1,1121.8 365.2,1121.8C371.3,1121.8 377.5,1117.6 383.6,1115.3C389.8,1113 396,1109.1 402.1,1107.9C408.2,1106.7 414.4,1106.7 420.5,1107.9C426.6,1109.1 432.9,1113.5 439,1115.3C445.1,1117.1 451.3,1119.6 457.4,1119C463.5,1118.4 469.6,1113.8 475.8,1111.6C482,1109.4 488.1,1106.4 494.3,1106.1C500.5,1105.8 506.6,1108.3 512.7,1109.8C518.9,1111.3 525.1,1117.4 531.2,1115.3C537.4,1113.2 543.5,1103.7 549.6,1096.9C555.7,1090.2 563.5,1079.4 568,1074.8C572.5,1070.2 573.2,1071.5 576.9,1069.2C580.6,1066.9 586,1062.7 590,1061C594,1059.3 598.3,1059.6 601,1059C603.7,1058.4 604.3,1058.3 606,1057.5C607.7,1056.7 608.8,1056.4 611,1054C613.2,1051.6 617,1046.3 619,1043C621,1039.7 620.4,1038.5 623,1034C625.6,1029.5 631.1,1021.7 634.5,1016C637.9,1010.3 640.4,1005.2 643.5,1000C646.6,994.8 650.1,990.2 653,985C655.9,979.8 658.5,973.9 661,969C663.5,964.1 665.4,960 668,955.5C670.6,951 673.7,946.6 676.5,942C679.3,937.4 682.4,932.3 685,928C687.6,923.7 689.5,919.7 692,916C694.5,912.3 697.3,908.8 700,906C702.7,903.2 705.3,900.9 708,899C710.7,897.1 713.3,895.7 716,894.5C718.7,893.3 721.3,892.7 724,892C726.7,891.3 729.3,890.8 732,890.5C734.7,890.2 737.5,890 740,890C742.5,890 744.3,890.2 747,890.8C749.7,891.4 752.8,892.5 756,893.8C759.2,895.1 762.7,896.8 766,898.4C769.3,900 772.7,901.6 776,903.5C779.3,905.4 781.8,907.2 786,909.5C790.2,911.8 795.3,914.5 801.3,917.5C807.3,920.5 815.1,924.2 822,927.8C828.9,931.3 835.7,934.7 842.6,938.8C849.5,942.9 856.4,947.8 863.3,952.6C870.2,957.4 878.2,963.2 883.9,967.5C889.6,971.8 893.1,975.1 897.7,978.5C902.3,981.9 905.8,985 911.5,988C917.2,991 925.2,993.9 932.1,996.5C939,999.1 945.9,1001.1 952.8,1003.6C959.7,1006.1 965.5,1008.1 973.4,1011.8C981.3,1015.5 992,1022.5 1000,1025.6C1008,1028.7 1013.2,1030.8 1021.4,1030.4C1029.6,1030 1039.9,1025 1049.1,1023C1058.3,1021 1067.6,1020.4 1076.8,1018.4C1086,1016.4 1095.2,1014.9 1104.4,1011C1113.6,1007.1 1122.9,999.1 1132.1,995.3C1141.3,991.5 1150.5,990.3 1159.7,988C1168.9,985.7 1178.2,984.7 1187.4,981.5C1196.6,978.3 1205.8,971.8 1215,968.6C1224.2,965.4 1233.5,963.4 1242.7,962.1C1251.9,960.8 1261.2,961.1 1270.4,961C1279.6,960.9 1288.5,960.4 1298,961.5C1307.5,962.6 1318.2,965 1327.7,967.7C1337.2,970.4 1346.1,975.3 1355.3,977.8C1364.5,980.2 1373.8,981 1383,982.4C1392.2,983.8 1401.4,984.6 1410.6,986.1C1419.8,987.6 1429.1,989.1 1438.3,991.6C1447.5,994.1 1456.8,998 1466,1000.9C1475.2,1003.8 1484.4,1007.4 1493.6,1009.2C1502.8,1011 1513,1011 1521.3,1011.9C1529.6,1012.8 1535.7,1012.2 1543.4,1014.7C1551.1,1017.2 1560.3,1022.6 1567.4,1026.7C1574.5,1030.8 1579.7,1036.5 1585.8,1039.6C1591.9,1042.7 1598.1,1044.2 1604.3,1045.1C1610.5,1046 1616.5,1043.6 1622.7,1045.1C1628.9,1046.6 1635.1,1050 1641.2,1054.3C1647.3,1058.6 1653.5,1066.9 1659.6,1070.9C1665.7,1074.9 1671.2,1078 1678,1078.3C1684.8,1078.6 1693.1,1074.4 1700.1,1072.8C1707.1,1071.2 1713.4,1068.8 1720.1,1068.8C1726.8,1068.8 1734.6,1070.3 1740.2,1072.8C1745.8,1075.2 1749,1079.9 1753.5,1083.5C1758,1087.1 1762.4,1090.4 1766.9,1094.2C1771.4,1098 1775.8,1103 1780.3,1106.2C1784.8,1109.4 1789.2,1112.7 1793.7,1113.6C1798.2,1114.5 1802.5,1113.9 1807,1111.6C1811.5,1109.2 1815.9,1103.7 1820.4,1099.5C1824.9,1095.3 1829.3,1089.8 1833.8,1086.2C1838.2,1082.6 1842.6,1079.4 1847.1,1078.1C1851.5,1076.8 1856,1076.8 1860.5,1078.1C1865,1079.4 1868.3,1082.4 1873.9,1086.2C1879.5,1090 1887.2,1096.9 1893.9,1100.9C1900.6,1104.9 1907.3,1107.3 1914,1110.2C1920.7,1113.1 1927.8,1115.1 1934,1118.2C1940.2,1121.3 1948.5,1127.1 1951.4,1128.9" stroke="#7e8824" stroke-width="7" fill="none" stroke-linejoin="round"/>
<path d="M719.6,135 V1307" stroke="#444" stroke-width="3" fill="none"/>
<path d="M737,510.5 L740.6,1307" stroke="#333" stroke-width="3" fill="none"/>
<path d="M757.7,906 V1307" stroke="#666" stroke-width="3" fill="none"/>
<path d="M1602,64.7 H1734.5" stroke="#6b6b6b" stroke-width="5.5" fill="none" stroke-linecap="round"/>
<path d="M1600.5,124.2 H1643 M1695.5,124.2 H1731.5" stroke="#6b6b6b" stroke-width="5.5" fill="none" stroke-linecap="round"/>
<text transform="translate(610.9,92)  scale(1.1216,1)" font-family="Liberation Sans, Arial, sans-serif" font-size="66.22"  fill="#151515">453 nm</text>
<text transform="translate(729.1,463)  scale(1.1204,1)" font-family="Liberation Sans, Arial, sans-serif" font-size="65.64"  fill="#151515">457 nm</text>
<text transform="translate(752.2,867.8)  scale(1.1119,1)" font-family="Liberation Sans, Arial, sans-serif" font-size="66.66"  fill="#151515">461 nm</text>
<text transform="translate(1153.1,224)  scale(1.147,1)" font-family="Liberation Sans, Arial, sans-serif" font-size="64.76"  fill="#151515">560 nm</text>
<text transform="translate(1248.3,577.6)  scale(1.1244,1)" font-family="Liberation Sans, Arial, sans-serif" font-size="65.78"  fill="#151515">566 nm</text>
<text transform="translate(1298.3,922.6)  scale(1.1301,1)" font-family="Liberation Sans, Arial, sans-serif" font-size="65.78"  fill="#151515">571 nm</text>
<text transform="translate(1974.2,474)  scale(1.2031,1)" font-family="Liberation Serif, Times New Roman, serif" font-size="78.45" font-weight="bold" fill="#151515">12V</text>
<text transform="translate(1974.2,816.2)  scale(1.2716,1)" font-family="Liberation Serif, Times New Roman, serif" font-size="76.8" font-weight="bold" fill="#151515">11V</text>
<text transform="translate(1964.7,1157.2)  scale(1.2171,1)" font-family="Liberation Serif, Times New Roman, serif" font-size="77.55" font-weight="bold" fill="#151515">10V</text>
<text transform="translate(1748.5,79.2)  scale(1.2646,1)" font-family="Liberation Serif, Times New Roman, serif" font-size="48.99"  stroke="#151515" stroke-width="0.9" fill="#151515">Relaxed</text>
<text transform="translate(1748.5,138)  scale(1.3046,1)" font-family="Liberation Serif, Times New Roman, serif" font-size="48.85"  stroke="#151515" stroke-width="0.9" fill="#151515">Stretched</text>
<text transform="translate(807,1482.3)  scale(1.1763,1)" font-family="Liberation Sans, Arial, sans-serif" font-size="63.0"  fill="#151515">Wavelength, nm</text>
<text transform="translate(77.4,855.4)  scale(1.166,1) rotate(-90)" font-family="Liberation Sans, Arial, sans-serif" font-size="61.72"  fill="#151515">Intensity a.u.</text>
<text transform="translate(145.4,1386)  scale(1.1284,1)" font-family="Liberation Sans, Arial, sans-serif" font-size="52.79"  fill="#151515">350</text>
<text transform="translate(395.9,1386.3)  scale(1.1427,1)" font-family="Liberation Sans, Arial, sans-serif" font-size="53.07"  fill="#151515">400</text>
<text transform="translate(648.6,1386.3)  scale(1.1427,1)" font-family="Liberation Sans, Arial, sans-serif" font-size="53.07"  fill="#151515">450</text>
<text transform="translate(899.3,1386.3)  scale(1.0973,1)" font-family="Liberation Sans, Arial, sans-serif" font-size="53.07"  fill="#151515">500</text>
<text transform="translate(1145.4,1386.3)  scale(1.1546,1)" font-family="Liberation Sans, Arial, sans-serif" font-size="53.07"  fill="#151515">550</text>
<text transform="translate(1397.1,1386.3)  scale(1.1164,1)" font-family="Liberation Sans, Arial, sans-serif" font-size="53.07"  fill="#151515">600</text>
<text transform="translate(1648.4,1386.3)  scale(1.1281,1)" font-family="Liberation Sans, Arial, sans-serif" font-size="53.07"  fill="#151515">650</text>
<text transform="translate(1899.1,1384.7)  scale(1.1974,1)" font-family="Liberation Sans, Arial, sans-serif" font-size="51.07"  fill="#151515">700</text>
</g>
</svg></div>
</body></html>
